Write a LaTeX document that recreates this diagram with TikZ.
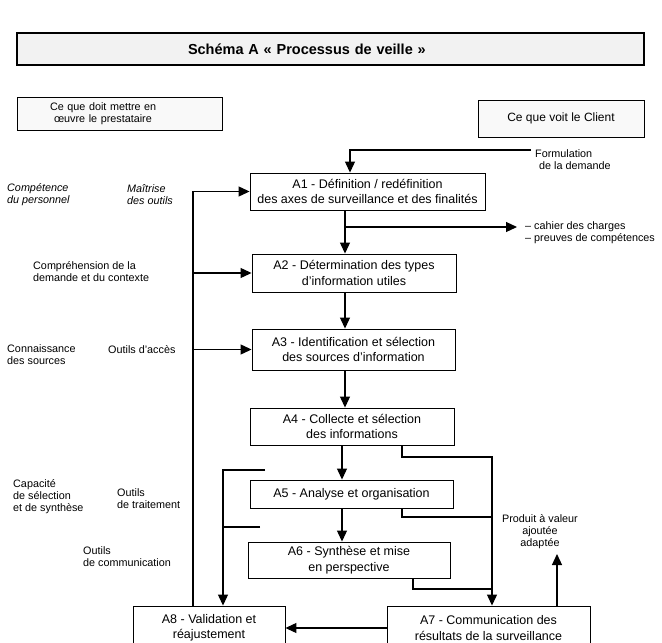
\documentclass[tikz,border=0pt]{standalone}
\usepackage{fontspec}
\setmainfont{Liberation Sans}
\usetikzlibrary{arrows.meta}
\tikzset{
  titre/.style={draw, line width=1.6pt, fill=gray!10, minimum height=32pt,
    inner xsep=171pt, text width=285pt, align=left,
    font=\bfseries\fontsize{14.5}{16}\selectfont},
  cadre/.style={draw, line width=0.9pt, fill=gray!5},
  etape/.style={draw, line width=0.9pt, fill=white, align=center, inner sep=2pt,
    font=\fontsize{12.5}{15.5}\selectfont},
  note/.style={anchor=west, align=left, inner sep=0pt,
    font=\fontsize{10.8}{12}\selectfont},
  noteit/.style={note, font=\itshape\fontsize{10.8}{12}\selectfont},
  lien/.style={line width=1.2pt},
  flow/.style={-{Triangle[length=11pt,width=10pt]}},
}
\begin{document}
\begin{tikzpicture}[x=1pt, y=-1pt]
  \useasboundingbox (0,0) rectangle (662,643);
  \clip (0,0) rectangle (662,643);
  \node[titre] (titre) at (330.5,49) {Schéma~A «~Processus de veille~»};
  \node[cadre, minimum width=205pt, minimum height=33pt, inner xsep=33pt,
    text width=139pt, align=left, font=\fontsize{10.8}{12}\selectfont]
    (presta) at (119.5,113.5) {Ce que doit mettre en\\\hspace*{4pt}œuvre le prestataire};
  \node[cadre, minimum width=166pt, minimum height=37pt,
    font=\fontsize{12}{14}\selectfont] (client) at (561,118.5) {Ce que voit le Client};
  \node[etape, minimum width=235pt, minimum height=37pt] (A1) at (367.5,191.5)
    {A1 - Définition / redéfinition\\des axes de surveillance et des finalités};
  \node[etape, minimum width=204pt, minimum height=38pt] (A2) at (354,273)
    {A2 - Détermination des types\\d'information utiles};
  \node[etape, minimum width=203pt, minimum height=41pt] (A3) at (353.5,349.5)
    {A3 - Identification et sélection\\des sources d'information};
  \node[etape, minimum width=204pt, minimum height=37pt] (A4) at (352,426.5)
    {A4 - Collecte et sélection\\des informations};
  \node[etape, minimum width=203pt, minimum height=28pt] (A5) at (351.5,494)
    {A5 - Analyse et organisation};
  \node[etape, minimum width=202pt, minimum height=36pt] (A6) at (349,560)
    {A6 - Synthèse et mise\\en perspective};
  \node[etape, minimum width=203pt, minimum height=44pt] (A7) at (488.5,628)
    {A7 - Communication des\\résultats de la surveillance};
  \node[etape, minimum width=152pt, minimum height=44pt] (A8) at (209,628)
    {A8 - Validation et\\réajustement};
  \node[noteit] (comp) at (7,195) {Compétence\\du personnel};
  \node[noteit] (maitr) at (127,195) {Maîtrise\\des outils};
  \node[note] (compr) at (33,272) {Compréhension de la\\demande et du contexte};
  \node[note] (conn) at (7,355) {Connaissance\\des sources};
  \node[note] (acces) at (108,350) {Outils d'accès};
  \node[note] (capa) at (13,497) {Capacité\\de sélection\\et de synthèse};
  \node[note] (outtrait) at (117,499) {Outils\\de traitement};
  \node[note] (outcomm) at (83,557) {Outils\\de communication};
  \node[note] (formu) at (535,160) {Formulation\\\hspace*{4pt}de la demande};
  \node[note] (cahier) at (525,233) {– cahier des charges\\– preuves de compétences};
  \node[note, anchor=center, align=center] (produit) at (540,532) {Produit à valeur\\ajoutée\\adaptée};
  \coordinate (c0) at (350,0);
  \coordinate (c1) at (345,0);
  \coordinate (c4) at (342,0);
  \coordinate (fb) at (193,0);
  \coordinate (fb2) at (223,0);
  \coordinate (rj) at (492,0);
  \coordinate (fd) at (531,150);
  \coordinate (cc) at (517,227);
  \coordinate (s4) at (265,470);
  \coordinate (s5) at (260,527);
  \coordinate (d4) at (402,457);
  \coordinate (d5) at (402,517);
  \coordinate (d6) at (413,589);
  \coordinate (pv) at (557,554);
  \begin{scope}[lien]
    \draw[flow] (fd) -| (A1.north -| c0);
    \draw[flow] (A1.south -| c1) -- (A2.north -| c1);
    \draw[flow] (c1 |- cc) -- (cc);
    \draw[flow] (A2.south -| c1) -- (A3.north -| c1);
    \draw[flow] (A3.south -| c1) -- (A4.north -| c1);
    \draw[flow] (A4.south -| c4) -- (A5.north -| c4);
    \draw[flow] (A5.south -| c4) -- (A6.north -| c4);
    \draw[flow] (A4.south -| d4) -- (d4) -| (A7.north -| rj);
    \draw (A5.south -| d5) -- (d5) -- (d5 -| rj);
    \draw (A6.south -| d6) -- (d6) -- (d6 -| rj);
    \draw[flow] (A7.north -| pv) -- (pv);
    \draw[flow] (A7.west) -- (A8.east);
    \draw[flow] (A8.north -| fb) |- (A1.west);
    \draw[flow] (fb |- A2.west) -- (A2.west);
    \draw[flow] (fb |- A3.west) -- (A3.west);
    \draw[flow] (s4) -| (A8.north -| fb2);
    \draw (s5) -- (s5 -| fb2);
  \end{scope}
\end{tikzpicture}
\end{document}
